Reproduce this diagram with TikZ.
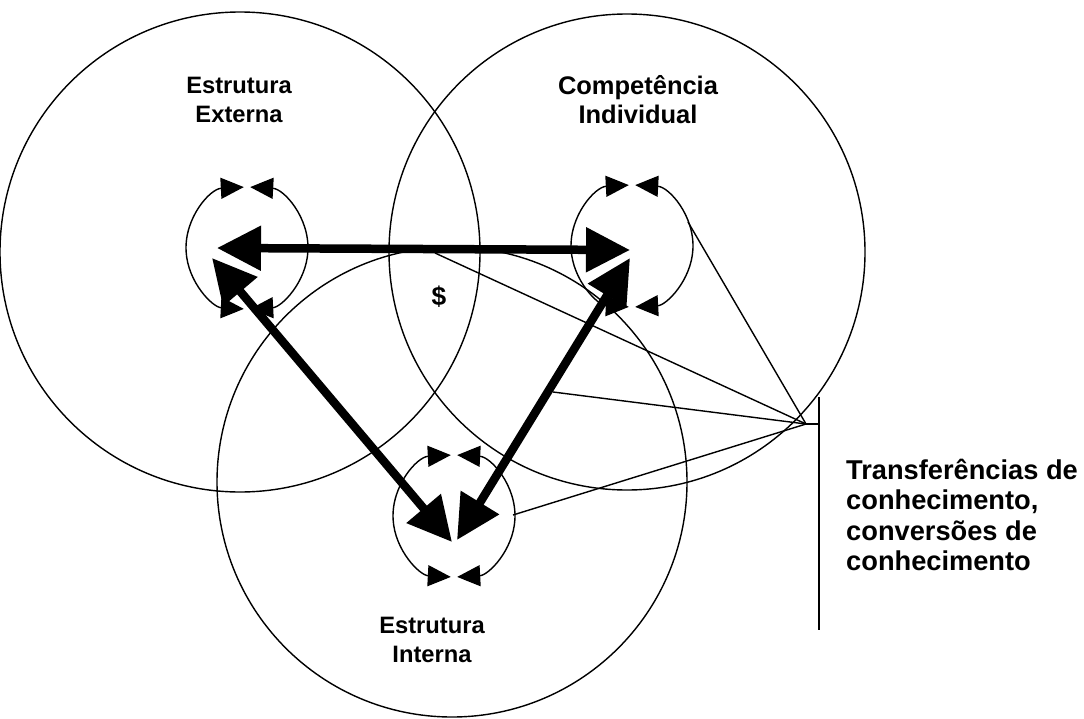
\documentclass[tikz,border=0pt]{standalone}
\usepackage{fontspec}
\setmainfont{Liberation Sans}
\usetikzlibrary{arrows.meta, positioning}

\begin{document}
\begin{tikzpicture}[x=0.02cm, y=0.02cm,
    thinline/.style={line width=0.8pt},
    bigarrow/.style={line width=0.17cm, {Triangle[length=0.88cm,width=0.86cm]}-{Triangle[length=0.88cm,width=0.86cm]}},
    looparrow/.style={line width=0.8pt, {Triangle[length=0.46cm,width=0.42cm]}-{Triangle[length=0.46cm,width=0.42cm]}},
    boldtext/.style={font=\fontsize{13.5}{16.5}\selectfont\bfseries, align=center}]
    \useasboundingbox (0,0) rectangle (1084,718);

    % Centres of the three areas
    \coordinate (ext) at (247,470);
    \coordinate (com) at (632,472);
    \coordinate (int) at (454,202);

    % Draw the big circles
    \draw[thinline] (240,466) circle[radius=240];
    \draw[thinline] (627,466) circle[radius=238];
    \draw[thinline] (452,236) circle[radius=235];

    % Knowledge transfers meeting at one point
    \coordinate (hub) at (806,294);
    \coordinate (bar top) at (819,321);
    \coordinate (bar bottom) at (819,88);
    \draw[thinline] (bar top) -- (bar bottom);
    \draw[thinline] (hub) -- (hub -| bar top);
    \coordinate (t1) at (688,496);
    \coordinate (t2) at (435,465);
    \coordinate (t3) at (553,326);
    \coordinate (t4) at (513,203);
    \foreach \t in {t1,t2,t3,t4}
        \draw[thinline] (\t) -- (hub);

    % Small loops round each area
    \foreach \c in {ext,com,int} {
        \draw[looparrow] ([shift={(93:61)}]\c) arc[start angle=93, end angle=267, radius=61];
        \draw[looparrow] ([shift={(87:61)}]\c) arc[start angle=87, end angle=-87, radius=61];
    }

    % Thick arrows between the areas
    \coordinate (ext-h) at (217,470);
    \coordinate (ext-d) at (212,460);
    \coordinate (com-h) at (630,468);
    \coordinate (com-d) at (630,460);
    \coordinate (int-l) at (452,176);
    \coordinate (int-r) at (457,178);
    \draw[bigarrow] (ext-h) -- (com-h);
    \draw[bigarrow] (ext-d) -- (int-l);
    \draw[bigarrow] (com-d) -- (int-r);

    % Labels
    \node[boldtext] (ext-name) at (239,618) {Estrutura\\Externa};
    \node[boldtext, font=\fontsize{14.5}{16.5}\selectfont\bfseries] (com-name) at (638,618) {Competência\\Individual};
    \node[boldtext] (int-name) at (432,78) {Estrutura\\Interna};
    \node[boldtext, font=\fontsize{15.5}{17.2}\selectfont\bfseries, align=left, anchor=west] (transfer) at (840,203)
        {Transferências de\\conhecimento,\\conversões de\\conhecimento};
    \node[font=\fontsize{15}{17}\selectfont\bfseries] (money) at (439,421) {\$};
\end{tikzpicture}
\end{document}
